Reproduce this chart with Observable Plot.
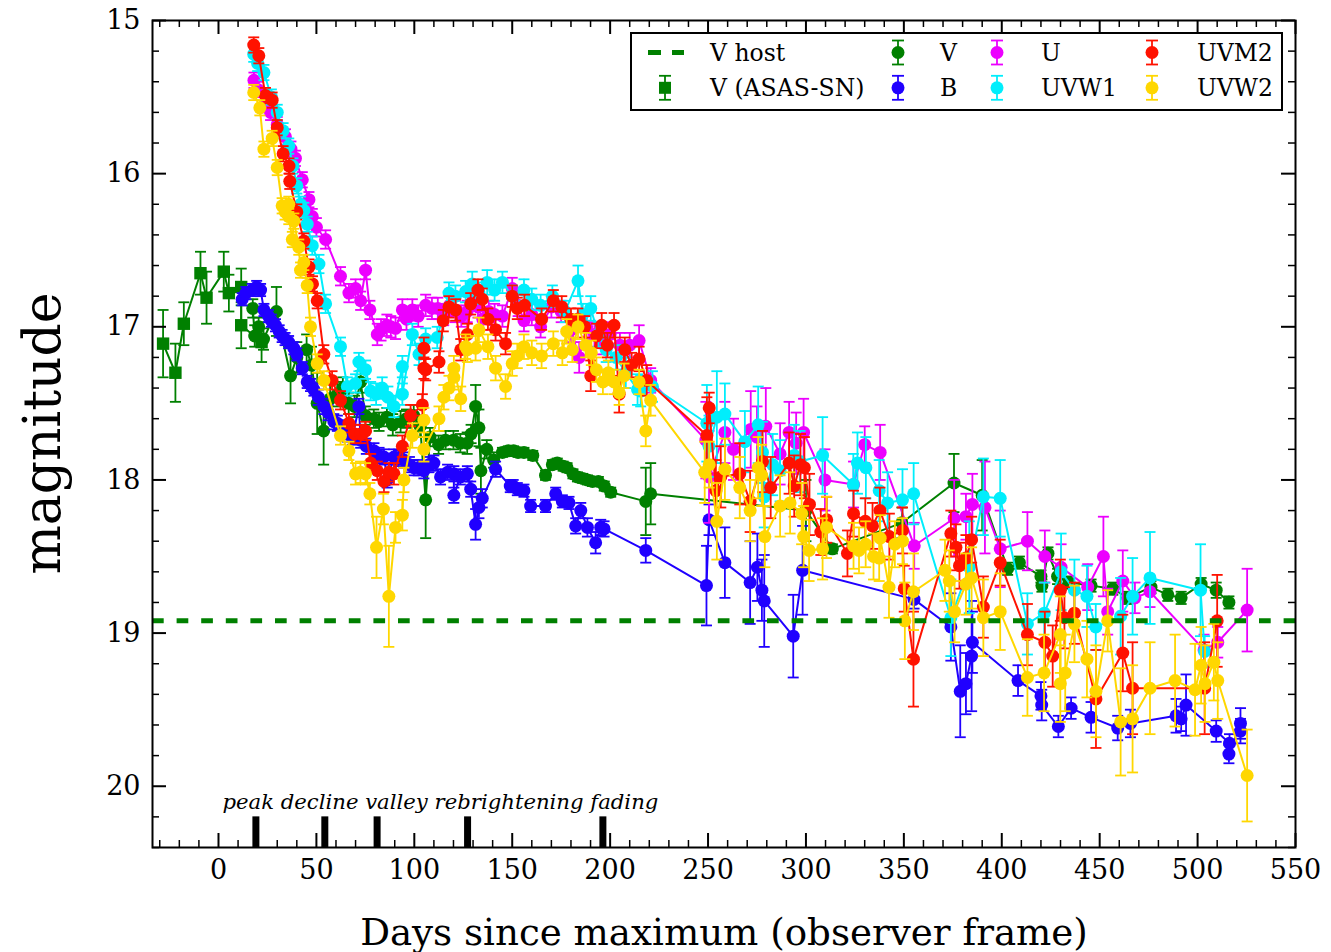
<!DOCTYPE html>
<html><head><meta charset="utf-8">
<script src="https://cdn.jsdelivr.net/npm/d3@7"></script>
<script src="https://cdn.jsdelivr.net/npm/@observablehq/plot@0.6"></script>
<style>body{margin:0;background:#fff}</style>
</head><body><div id="chart"></div>
<script>
const FONT = "DejaVu Serif";
const xLabel = "Days since maximum (observer frame)";
const yLabel = "magnitude";
const vHost = 18.92;
const xMajorTicks = [0,50,100,150,200,250,300,350,400,450,500,550];
const yMajorTicks = [15,16,17,18,19,20];
const phaseDays = [19.1,54.3,81,127.2,196.3];
const phaseLabel = "peak decline valley rebrightening fading";
const seriesNames = ["V host","V (ASAS-SN)","V","B","U","UVW1","UVM2","UVW2"];

// [day, magnitude, error]
const asassn = [[-28.3,17.11,0.22],[-22.0,17.30,0.19],[-17.7,16.98,0.14],[-9.2,16.65,0.14],[-6.1,16.81,0.17],[2.7,16.64,0.13],[5.3,16.78,0.12],[11.6,16.74,0.12],[11.6,16.99,0.15],[22.0,17.10,0.13]];

const swiftV = [[17.5,16.88,0.06],[18.5,17.06,0.07],[20.5,17.0,0.06],[23,17.08,0.07],[29.6,16.90,0.16],[36.8,17.32,0.18],[40,17.2,0.1],[45,17.15,0.1],[47.5,17.25,0.12],[50.4,17.50,0.2],[53.7,17.68,0.22],[57,17.47,0.1],[60.7,17.44,0.08],[63.5,17.40,0.07],[66.5,17.50,0.07],[69.5,17.52,0.07],[72.6,17.36,0.07],[75,17.58,0.06],[79.3,17.60,0.06],[82,17.62,0.06],[86,17.59,0.06],[89,17.64,0.07],[93,17.62,0.07],[96,17.60,0.06],[99.7,17.58,0.07],[103,17.65,0.07],[105.8,18.13,0.25],[108,17.72,0.06],[112.4,17.77,0.06],[116,17.74,0.06],[120,17.74,0.06],[123.5,17.76,0.06],[127,17.76,0.07],[129,17.70,0.06],[131.3,17.52,0.14],[133,17.66,0.12],[134,17.94,0.15],[137,17.80,0.06],[140.5,17.87,0.05],[145,17.82,0.03],[148,17.81,0.03],[150.7,17.81,0.03],[153,17.82,0.03],[156,17.82,0.03],[160.5,17.84,0.03],[167,17.97,0.03],[170.5,17.90,0.03],[173,17.89,0.03],[176,17.91,0.03],[178,17.92,0.03],[181,17.96,0.03],[183.3,17.98,0.03],[186,17.99,0.03],[188.4,18.00,0.03],[191,18.01,0.03],[194,18.01,0.03],[197,18.04,0.03],[200.3,18.08,0.03],[218.2,18.14,0.22],[220.7,18.09,0.2],[300,18.20,0.2],[313.5,18.45,0.03],[349,18.28,0.1],[375.6,18.02,0.19],[390,18.10,0.23],[403,18.58,0.04],[409,18.54,0.04],[420,18.63,0.04],[420.5,18.69,0.04],[423.6,18.48,0.04],[428.5,18.63,0.05],[434.3,18.67,0.04],[445.6,18.69,0.04],[456.7,18.71,0.04],[464.3,18.77,0.04],[476.2,18.70,0.04],[484.8,18.75,0.04],[491.6,18.77,0.04],[501.8,18.68,0.04],[509.5,18.72,0.05],[516,18.80,0.04]];

const swiftB = [[12.1,16.82,0.04],[14,16.78,0.04],[17.2,16.76,0.04],[19.5,16.74,0.04],[21.5,16.76,0.04],[23.2,16.89,0.04],[25.5,16.93,0.04],[27,16.96,0.04],[29.1,16.99,0.04],[31,17.03,0.04],[32.5,17.06,0.04],[34,17.08,0.04],[35.8,17.10,0.04],[38.5,17.14,0.04],[40,17.18,0.04],[42.8,17.27,0.04],[45.3,17.36,0.04],[47,17.38,0.04],[48.7,17.41,0.04],[51,17.46,0.05],[53.8,17.52,0.05],[56,17.56,0.05],[58.9,17.62,0.05],[60.7,17.63,0.05],[63,17.66,0.05],[65.8,17.70,0.05],[68.5,17.72,0.05],[71.7,17.52,0.05],[72.6,17.74,0.05],[75.5,17.78,0.05],[79.4,17.81,0.05],[82,17.84,0.05],[84.5,17.85,0.05],[86.2,18.0,0.05],[89.6,17.85,0.05],[92,17.86,0.05],[94.7,17.87,0.05],[97.5,17.90,0.05],[99.8,17.92,0.05],[102,17.92,0.05],[104.9,17.94,0.05],[107.5,17.90,0.05],[110,17.89,0.05],[113.4,17.98,0.05],[117,17.95,0.05],[120.2,17.96,0.05],[120.2,18.10,0.05],[123.5,17.98,0.05],[127.1,17.96,0.05],[128.8,18.06,0.05],[131.3,18.29,0.1],[133,18.18,0.07],[134.7,18.12,0.06],[141.5,17.93,0.05],[149,18.04,0.04],[150.5,18.04,0.04],[152.6,18.06,0.04],[156,18.07,0.04],[159.4,18.17,0.04],[167,18.17,0.04],[172.2,18.09,0.04],[175.6,18.14,0.04],[179,18.15,0.04],[182.4,18.30,0.05],[185,18.20,0.05],[188.4,18.31,0.06],[192.6,18.41,0.07],[195.2,18.31,0.05],[196.9,18.32,0.05],[218.2,18.46,0.08],[249.2,18.69,0.26],[250.5,18.26,0.1],[258.6,18.54,0.23],[271.5,18.67,0.27],[275.2,18.57,0.22],[277.5,18.72,0.2],[278.7,18.79,0.3],[293.5,19.02,0.27],[298.3,18.59,0.29],[355.2,18.78,0.06],[374,18.96,0.22],[378.8,19.38,0.3],[381.7,19.33,0.2],[384.6,19.15,0.36],[385,19.06,0.2],[408.3,19.31,0.1],[420,19.41,0.09],[420.4,19.47,0.1],[428.9,19.61,0.07],[435.4,19.49,0.07],[445.6,19.55,0.1],[459.2,19.62,0.08],[465.7,19.59,0.09],[489,19.54,0.11],[491.6,19.56,0.08],[494.1,19.47,0.2],[509.5,19.64,0.07],[516.3,19.72,0.06],[516,19.79,0.06],[521.9,19.59,0.1],[521.9,19.64,0.08]];

const swiftU = [[18.1,15.39,0.05],[20,15.45,0.05],[24,15.55,0.05],[26.6,15.60,0.05],[30,15.68,0.05],[34.2,15.76,0.05],[37,15.84,0.05],[39.3,15.90,0.05],[42.8,16.04,0.05],[46.2,16.17,0.05],[47.9,16.28,0.05],[50,16.35,0.06],[54.7,16.43,0.06],[62.3,16.67,0.06],[66.6,16.78,0.06],[70,16.75,0.06],[72.6,16.83,0.06],[75.1,16.63,0.06],[77.3,16.89,0.06],[81.1,17.05,0.07],[83,17.02,0.07],[86,16.99,0.07],[88,17.0,0.07],[90.4,17.01,0.07],[93.9,16.89,0.07],[96,16.95,0.07],[99,16.89,0.07],[102,16.93,0.07],[105.8,16.86,0.07],[109,16.88,0.07],[112,16.88,0.07],[115,16.92,0.07],[118,16.86,0.07],[121,16.90,0.07],[124,16.93,0.07],[127,16.90,0.07],[130,16.80,0.07],[132.5,16.87,0.07],[135,16.95,0.07],[138,16.90,0.07],[141,16.92,0.07],[145,16.93,0.07],[150,16.75,0.07],[153,16.86,0.07],[156,16.96,0.07],[160,16.92,0.07],[164.5,17.0,0.07],[170,16.87,0.07],[175,16.90,0.07],[180,17.02,0.08],[184.2,17.20,0.1],[188,17.0,0.08],[192,17.05,0.08],[196,17.10,0.08],[200,17.05,0.08],[205,17.12,0.08],[210,17.12,0.08],[214.8,17.09,0.1],[220.7,17.35,0.08],[248.9,17.74,0.25],[250.5,17.98,0.3],[258.6,17.69,0.2],[263,17.80,0.2],[271.8,17.67,0.25],[275,17.72,0.2],[279.5,17.65,0.25],[286.8,17.83,0.2],[291.4,17.69,0.2],[295,17.76,0.2],[298.8,17.69,0.22],[309.7,18.0,0.2],[324.3,18.03,0.15],[330,17.77,0.12],[337.9,17.82,0.18],[355.3,18.43,0.15],[375.7,18.25,0.25],[381.7,18.24,0.15],[385,18.16,0.2],[391.4,18.18,0.3],[399.2,18.45,0.25],[413.1,18.40,0.19],[422,18.50,0.17],[430.3,18.57,0.15],[443.9,18.70,0.15],[451.9,18.50,0.26],[454.1,18.86,0.15],[461.8,18.66,0.2],[468,18.77,0.1],[475.7,18.73,0.1],[503.3,19.11,0.1],[510.3,19.06,0.1],[525.3,18.85,0.27]];

const swiftW1 = [[18,15.22,0.05],[20,15.28,0.05],[23.2,15.34,0.05],[27,15.50,0.05],[30,15.60,0.05],[33,15.72,0.05],[35.9,15.82,0.05],[38,15.95,0.05],[40,16.08,0.05],[41.9,16.20,0.05],[43.6,16.24,0.05],[45.3,16.33,0.05],[47.9,16.47,0.06],[51.3,16.59,0.06],[54.7,16.85,0.06],[62.3,17.13,0.06],[65.8,17.39,0.06],[70,17.37,0.06],[71.7,17.23,0.06],[75.1,17.28,0.06],[77.7,17.42,0.06],[80.5,17.44,0.07],[83.6,17.40,0.07],[86.5,17.46,0.07],[89.6,17.52,0.07],[93.9,17.26,0.07],[93.9,17.44,0.07],[99,17.05,0.07],[102.4,17.18,0.07],[105.8,17.08,0.07],[111.7,17.07,0.07],[117.7,16.78,0.07],[121,16.80,0.07],[126.2,16.77,0.07],[129.6,16.72,0.08],[133,16.78,0.07],[137.2,16.71,0.08],[141,16.76,0.07],[145,16.71,0.07],[150,16.80,0.07],[156,16.76,0.07],[160,16.82,0.07],[164.5,16.86,0.07],[170.5,16.80,0.07],[177,16.90,0.07],[183.6,16.70,0.1],[186,16.92,0.07],[190.1,16.88,0.08],[194,17.05,0.08],[198,17.15,0.08],[203,17.20,0.08],[208,17.30,0.1],[214,17.41,0.1],[215.6,17.42,0.1],[221.6,17.39,0.1],[249.4,17.63,0.25],[250.5,17.78,0.2],[254.5,17.59,0.3],[258.6,17.57,0.2],[268.8,17.75,0.2],[275.6,17.64,0.25],[277.8,17.82,0.2],[278.7,18.11,0.2],[283,17.90,0.2],[286.8,17.94,0.2],[294,17.84,0.2],[297,17.88,0.2],[308.5,17.84,0.25],[324.2,18.03,0.2],[326.3,17.89,0.2],[330.6,17.92,0.2],[337.4,18.07,0.2],[341.7,18.15,0.2],[349.3,18.13,0.2],[355,18.09,0.2],[374,18.90,0.25],[383.4,18.57,0.3],[390.6,18.11,0.25],[399.2,18.12,0.25],[413.1,18.94,0.2],[421.7,18.87,0.2],[430.3,18.60,0.25],[437.1,18.72,0.2],[443.5,18.76,0.2],[448,18.96,0.15],[460.7,18.89,0.25],[466.8,18.76,0.25],[475.7,18.64,0.3],[501.5,18.72,0.3],[503.6,19.12,0.1]];

const swiftM2 = [[18,15.16,0.05],[20.6,15.23,0.05],[24,15.49,0.05],[27.4,15.52,0.05],[30,15.70,0.05],[33,15.87,0.05],[36,15.95,0.05],[36.4,16.05,0.05],[40,16.25,0.05],[43.6,16.44,0.05],[46.2,16.61,0.05],[48,16.72,0.05],[50.4,16.83,0.05],[53.8,17.18,0.06],[58,17.35,0.06],[62.3,17.48,0.06],[66.6,17.63,0.06],[69.5,17.70,0.06],[72.6,17.70,0.06],[75.1,17.68,0.06],[77.7,17.89,0.06],[81.1,17.94,0.06],[84.5,18.01,0.07],[87,17.95,0.06],[89.6,17.96,0.07],[93.9,17.78,0.07],[98.1,17.58,0.07],[104.1,17.51,0.07],[104.9,17.27,0.07],[104.9,17.14,0.07],[105.8,17.28,0.07],[112.6,17.23,0.07],[114.8,16.96,0.07],[117.7,16.87,0.07],[121.1,16.89,0.07],[123.7,17.15,0.07],[127.1,17.05,0.07],[128.8,16.85,0.07],[132.5,16.76,0.07],[134.7,16.82,0.07],[137.6,16.95,0.07],[141.5,17.02,0.07],[146.6,17.11,0.07],[150,16.80,0.07],[152.6,16.88,0.07],[156.3,16.86,0.07],[165,16.95,0.07],[171,16.83,0.07],[175.3,16.87,0.07],[180,16.95,0.07],[183.5,16.95,0.07],[187,17.0,0.07],[190.1,17.32,0.1],[193.1,17.06,0.08],[195.7,16.99,0.08],[198.6,17.12,0.08],[202,16.99,0.08],[204.6,17.44,0.12],[207.5,17.15,0.08],[211,17.25,0.08],[214.8,17.21,0.08],[218.7,17.35,0.1],[249.4,17.71,0.25],[250.6,17.53,0.1],[254,18.07,0.2],[256.5,17.98,0.2],[266.2,17.96,0.2],[271.5,18.14,0.2],[277.8,17.88,0.2],[282,18.05,0.2],[291.4,17.89,0.2],[294,18.04,0.2],[297.2,17.90,0.2],[299.2,17.92,0.2],[301.8,18.16,0.2],[307.6,18.34,0.15],[310.6,18.26,0.15],[321.2,18.48,0.15],[324.3,18.22,0.15],[330.3,18.27,0.15],[334,18.30,0.15],[337.8,18.20,0.15],[342.6,18.37,0.15],[349.3,18.33,0.15],[350.2,18.71,0.15],[354.9,19.17,0.31],[374,18.35,0.15],[376.6,18.44,0.15],[378.4,18.56,0.15],[381.7,18.51,0.15],[384.6,18.39,0.15],[390.6,18.83,0.2],[399.2,18.54,0.15],[413.1,19.01,0.2],[422,19.06,0.2],[426,19.15,0.2],[429.9,18.72,0.2],[432,18.90,0.2],[437.1,18.87,0.2],[448.1,19.43,0.32],[461.8,19.13,0.25],[466.8,19.36,0.3],[503.6,19.36,0.3],[510,18.92,0.3]];

const swiftW2 = [[18,15.47,0.05],[21.1,15.57,0.05],[23.2,15.84,0.05],[27.4,15.77,0.05],[30,15.96,0.05],[32.5,16.21,0.05],[34,16.25,0.05],[35.9,16.20,0.05],[35.9,16.28,0.05],[37.7,16.43,0.05],[38.5,16.31,0.05],[41,16.48,0.05],[41.9,16.63,0.05],[43.6,16.58,0.05],[45.3,16.73,0.05],[47,17.0,0.06],[50.4,17.24,0.06],[53.8,17.35,0.06],[62.3,17.71,0.06],[66.6,17.81,0.06],[70,17.96,0.07],[72.5,17.95,0.07],[75.1,17.96,0.07],[77.3,18.09,0.07],[80.7,18.44,0.2],[84.2,18.19,0.1],[87,18.76,0.33],[90.4,18.31,0.1],[93.9,18.23,0.1],[94.7,18.0,0.08],[99,17.71,0.08],[104.9,17.61,0.08],[104.9,17.80,0.08],[112.6,17.60,0.08],[115.1,17.46,0.08],[117.7,17.40,0.08],[120.2,17.33,0.08],[120.2,17.27,0.08],[123.7,17.47,0.08],[126.2,17.13,0.08],[127.1,17.15,0.08],[131.3,17.14,0.08],[133,17.02,0.08],[137.6,17.13,0.08],[141.5,17.27,0.08],[146.6,17.39,0.08],[150,17.24,0.08],[152.6,17.19,0.08],[156,17.13,0.08],[160,17.17,0.08],[165,17.19,0.08],[171,17.11,0.08],[175.6,17.17,0.08],[177.8,17.03,0.08],[180.7,17.15,0.08],[183.6,17.0,0.08],[187.5,17.12,0.08],[190.4,17.17,0.08],[193,17.28,0.08],[196.3,17.36,0.08],[199.1,17.30,0.08],[202,17.36,0.08],[204.6,17.43,0.08],[207.1,17.32,0.08],[214.8,17.36,0.08],[218.2,17.68,0.1],[220.7,17.48,0.1],[248.3,17.95,0.2],[250.6,17.90,0.15],[254.5,18.27,0.25],[258.6,17.93,0.2],[266.2,18.05,0.2],[271.5,18.20,0.2],[275.6,17.92,0.2],[277.4,17.97,0.2],[279,18.37,0.2],[286.8,18.17,0.2],[291.9,18.15,0.2],[297.8,18.22,0.2],[298.8,18.37,0.2],[301.6,18.46,0.2],[308.5,18.45,0.2],[310.5,18.31,0.2],[324.3,18.43,0.15],[327.1,18.46,0.15],[330.5,18.42,0.15],[334.5,18.50,0.15],[337.4,18.51,0.15],[337.9,18.38,0.15],[342.4,18.70,0.2],[345.4,18.42,0.15],[349.3,18.40,0.15],[350.5,18.92,0.25],[354.9,18.73,0.25],[371,18.59,0.2],[373.2,18.66,0.2],[375.9,18.86,0.2],[381.7,18.68,0.2],[384.6,18.64,0.2],[390.6,18.90,0.25],[399.2,18.86,0.25],[413.1,19.29,0.25],[421.6,19.26,0.25],[429.9,19.01,0.25],[429.9,19.33,0.25],[432.4,19.26,0.25],[437.1,18.94,0.25],[443.5,19.17,0.25],[448.1,19.38,0.3],[454.1,18.92,0.2],[460.7,19.58,0.35],[466.8,19.56,0.35],[475.7,19.36,0.3],[488.5,19.31,0.3],[498.7,19.37,0.3],[501.8,19.21,0.25],[503.8,19.33,0.25],[508.3,19.19,0.25],[510.3,19.31,0.25],[525.3,19.93,0.3]];

const colors = {host:"#008000", V:"#008000", B:"#2000ff", U:"#ec00ff", W1:"#00eefc", M2:"#ff1200", W2:"#ffd700"};

const W = 1331, H = 952;
const M = {top:20, right:36, bottom:105, left:152};
const FW = W - M.left - M.right, FH = H - M.top - M.bottom;

const capSymbol = {draw(ctx, size){ const w = Math.sqrt(size/Math.PI); ctx.moveTo(-w,0); ctx.lineTo(w,0); }};

function toRows(a){ return a.map(([day,mag,err]) => ({day, mag, err})); }

function seriesMarks(arr, color, symbol="circle", r=6.5){
  const data = toRows(arr);
  return [
    Plot.ruleX(data, {x:"day", y1:d=>d.mag-d.err, y2:d=>d.mag+d.err, stroke:color, strokeWidth:1.8}),
    Plot.dot(data, {x:"day", y:d=>d.mag-d.err, symbol:capSymbol, r:5.5, stroke:color, strokeWidth:1.8, fill:"none"}),
    Plot.dot(data, {x:"day", y:d=>d.mag+d.err, symbol:capSymbol, r:5.5, stroke:color, strokeWidth:1.8, fill:"none"}),
    Plot.line(data, {x:"day", y:"mag", stroke:color, strokeWidth:2}),
    Plot.dot(data, {x:"day", y:"mag", symbol, r, fill:color, stroke:"none"})
  ];
}

const xMinor = d3.range(-30, 551, 10).filter(v => v % 50 !== 0);
const yMinor = d3.range(15, 20.41, 0.2).map(v => +v.toFixed(1)).filter(v => Math.abs(v - Math.round(v)) > 1e-6);

const plot = Plot.plot({
  width: W, height: H,
  marginTop: M.top, marginRight: M.right, marginBottom: M.bottom, marginLeft: M.left,
  style: {fontFamily: FONT, background: "#fff"},
  x: {domain: [-33.7, 550], label: null},
  y: {domain: [15, 20.4], reverse: true, label: null},
  marks: [
    ...seriesMarks(asassn, colors.V, "square", 7),
    ...seriesMarks(swiftV, colors.V),
    ...seriesMarks(swiftB, colors.B),
    ...seriesMarks(swiftU, colors.U),
    ...seriesMarks(swiftW1, colors.W1),
    ...seriesMarks(swiftM2, colors.M2),
    ...seriesMarks(swiftW2, colors.W2),
    Plot.ruleY([vHost], {stroke: colors.host, strokeWidth: 5, strokeDasharray: "11.7,12.9"}),
    Plot.ruleX(phaseDays, {x: d=>d, y1: 20.2, y2: 20.4, stroke: "black", strokeWidth: 7}),
    Plot.text([phaseLabel], {x: 2, y: 20.104, text: d=>d, textAnchor: "start", fontStyle: "italic", fontSize: 21.2, fontFamily: FONT, fill: "black"}),
    Plot.tickX(xMajorTicks, {insetTop: FH-14, stroke:"black", strokeWidth:2}),
    Plot.tickX(xMajorTicks, {insetBottom: FH-14, stroke:"black", strokeWidth:2}),
    Plot.tickX(xMinor, {insetTop: FH-7, stroke:"black", strokeWidth:1.5}),
    Plot.tickX(xMinor, {insetBottom: FH-7, stroke:"black", strokeWidth:1.5}),
    Plot.tickY(yMajorTicks, {insetRight: FW-14, stroke:"black", strokeWidth:2}),
    Plot.tickY(yMajorTicks, {insetLeft: FW-14, stroke:"black", strokeWidth:2}),
    Plot.tickY(yMinor, {insetRight: FW-7, stroke:"black", strokeWidth:1.5}),
    Plot.tickY(yMinor, {insetLeft: FW-7, stroke:"black", strokeWidth:1.5}),
    Plot.frame({stroke:"black", strokeWidth:2}),
    Plot.axisX(xMajorTicks, {anchor:"bottom", tickSize:0, tickPadding:12, fontSize:27, fontFamily:FONT, tickFormat:d=>String(d), label:null}),
    Plot.axisY(yMajorTicks, {anchor:"left", tickSize:0, tickPadding:12, fontSize:27, fontFamily:FONT, tickFormat:d=>String(d), label:null}),
    Plot.text([xLabel], {frameAnchor:"bottom", dy:97, text:d=>d, fontSize:37.2, fontFamily:FONT, fill:"black"})
  ]
});

document.getElementById("chart").appendChild(plot);

const svg = d3.select(plot);

// y-axis title
svg.append("text")
  .attr("transform", `translate(42,${M.top + FH/2}) rotate(-90)`)
  .attr("text-anchor", "middle").attr("dy", "0.35em")
  .attr("font-family", FONT).attr("font-size", 52).attr("fill", "black")
  .text(yLabel);

// Legend
const lg = svg.append("g").attr("font-family", FONT).attr("font-size", 23.5).attr("text-anchor", "start");
lg.append("rect").attr("x",631).attr("y",33).attr("width",651).attr("height",77).attr("fill","white").attr("stroke","black").attr("stroke-width",2);
const rowY = [52.5, 87.8];
const legendItems = [
  {name: seriesNames[0], kind:"dash", color: colors.host, mx: 665, tx: 710, row:0},
  {name: seriesNames[1], kind:"square", color: colors.V, mx: 665, tx: 710, row:1},
  {name: seriesNames[2], kind:"circle", color: colors.V, mx: 898, tx: 940, row:0},
  {name: seriesNames[3], kind:"circle", color: colors.B, mx: 898, tx: 940, row:1},
  {name: seriesNames[4], kind:"circle", color: colors.U, mx: 997, tx: 1041, row:0},
  {name: seriesNames[5], kind:"circle", color: colors.W1, mx: 997, tx: 1041, row:1},
  {name: seriesNames[6], kind:"circle", color: colors.M2, mx: 1152, tx: 1197, row:0},
  {name: seriesNames[7], kind:"circle", color: colors.W2, mx: 1152, tx: 1197, row:1}
];
for (const it of legendItems) {
  const y = rowY[it.row];
  if (it.kind === "dash") {
    lg.append("line").attr("x1", it.mx-17).attr("x2", it.mx+19).attr("y1", y).attr("y2", y)
      .attr("stroke", it.color).attr("stroke-width", 5).attr("stroke-dasharray", "13,11");
  } else {
    lg.append("line").attr("x1", it.mx).attr("x2", it.mx).attr("y1", y-12).attr("y2", y+12).attr("stroke", it.color).attr("stroke-width", 1.8);
    lg.append("line").attr("x1", it.mx-6).attr("x2", it.mx+6).attr("y1", y-12).attr("y2", y-12).attr("stroke", it.color).attr("stroke-width", 1.8);
    lg.append("line").attr("x1", it.mx-6).attr("x2", it.mx+6).attr("y1", y+12).attr("y2", y+12).attr("stroke", it.color).attr("stroke-width", 1.8);
    if (it.kind === "square") lg.append("rect").attr("x", it.mx-6).attr("y", y-6).attr("width", 12).attr("height", 12).attr("fill", it.color);
    else lg.append("circle").attr("cx", it.mx).attr("cy", y).attr("r", 6.5).attr("fill", it.color);
  }
  lg.append("text").attr("x", it.tx).attr("y", y).attr("dy", "0.35em").attr("fill", "black").text(it.name);
}
</script>
</body></html>
